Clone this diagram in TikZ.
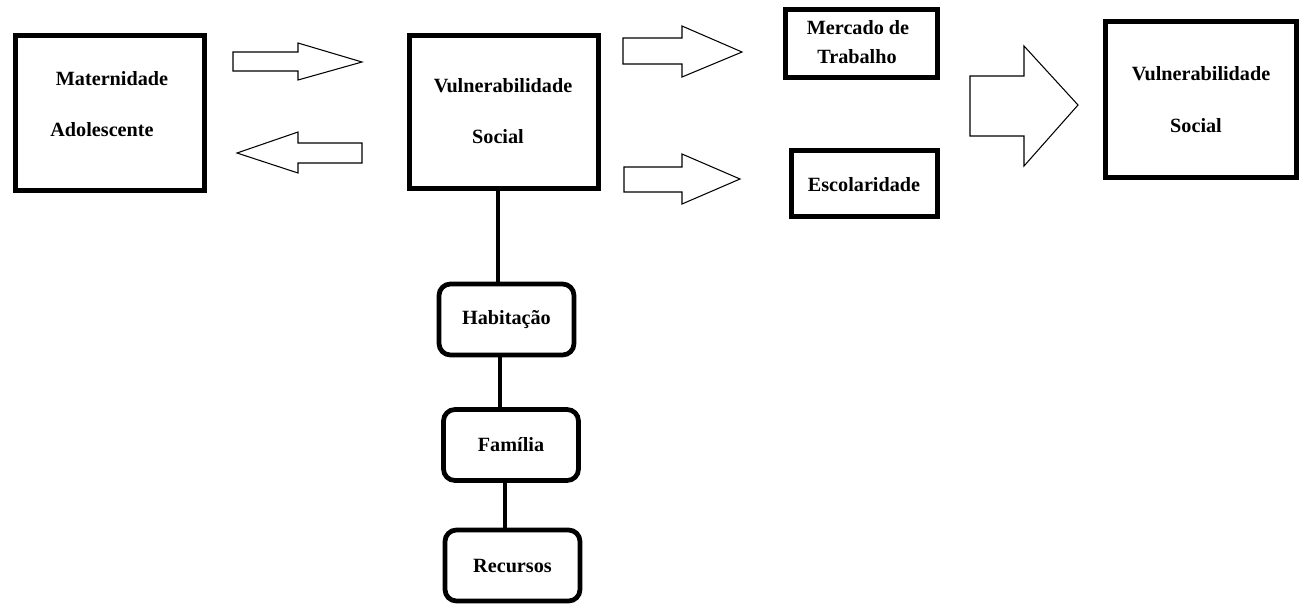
\documentclass[tikz,border=0pt]{standalone}
\usepackage{fontspec}
\setmainfont{Liberation Serif}
\usetikzlibrary{positioning}
\tikzset{
bigbox/.style={draw, line width=2.8pt, inner sep=0pt}, % the square boxes
roundbox/.style={draw, line width=2.7pt, rounded corners=6.5pt, inner sep=0pt, minimum width=2.7cm, minimum height=1.42cm, font=\bfseries\fontsize{11.5}{14}\selectfont}, % the boxes below
lbl/.style={inner sep=0pt, font=\bfseries\fontsize{11.5}{14}\selectfont}, % text inside the square boxes
link/.style={line width=2.8pt}, % thick plain connectors
blockarrow/.style={draw, fill=white, line width=0.6pt, line join=miter}, % hollow arrows
}

\begin{document}
\begin{tikzpicture}[x=0.02cm, y=-0.02cm]
    \useasboundingbox (0,0) rectangle (1304,603);

    % square boxes
    \node[bigbox, minimum width=3.78cm, minimum height=3.1cm] (mat) at (110,113) {};
    \node[lbl] (matA) at (112,79) {Maternidade};
    \node[lbl] (matB) at (102,130) {Adolescente};

    \node[bigbox, minimum width=3.78cm, minimum height=3.06cm] (vs) at (504,112) {};
    \node[lbl] (vsA) at (503,86) {Vulnerabilidade};
    \node[lbl] (vsB) at (498,137) {Social};

    \node[bigbox, minimum width=3.04cm, minimum height=1.36cm] (merc) at (861.5,43.5) {};
    \node[lbl] (mercA) at (858,28) {Mercado de};
    \node[lbl] (mercB) at (857,57) {Trabalho};

    \node[bigbox, minimum width=2.92cm, minimum height=1.32cm] (esc) at (864.5,183.5) {};
    \node[lbl] (escA) at (864,185) {Escolaridade};

    \node[bigbox, minimum width=3.82cm, minimum height=3.12cm] (vs2) at (1201,99.5) {};
    \node[lbl] (vs2A) at (1201,74) {Vulnerabilidade};
    \node[lbl] (vs2B) at (1196,126) {Social};

    % rounded boxes
    \node[roundbox] (hab) at (506.5,319.5) {Habitação};
    \node[roundbox] (fam) at (511,445) {Família};
    \node[roundbox] (rec) at (512.5,565.5) {Recursos};

    \draw[link] ([xshift=-0.12cm]vs.south) -- ([xshift=-0.12cm]vs.south |- hab.north);
    \draw[link] ([xshift=-0.13cm]hab.south) -- ([xshift=-0.13cm]hab.south |- fam.north);
    \draw[link] ([xshift=-0.12cm]fam.south) -- ([xshift=-0.12cm]fam.south |- rec.north);

    % hollow arrows
    \draw[blockarrow] (233,52) -- (298,52) -- (298,43) -- (362,62) -- (298,80) -- (298,71) -- (233,71) -- cycle;
    \draw[blockarrow] (362,143) -- (298,143) -- (298,132) -- (237,153) -- (298,173) -- (298,163) -- (362,163) -- cycle;
    \draw[blockarrow] (623,38) -- (682,38) -- (682,26) -- (742,52) -- (682,77) -- (682,64) -- (623,64) -- cycle;
    \draw[blockarrow] (624,167) -- (682,167) -- (682,154) -- (740,179) -- (682,204) -- (682,192) -- (624,192) -- cycle;
    \draw[blockarrow] (970,76) -- (1024,76) -- (1024,46) -- (1078,105) -- (1024,166) -- (1024,136) -- (970,136) -- cycle;
\end{tikzpicture}
\end{document}
